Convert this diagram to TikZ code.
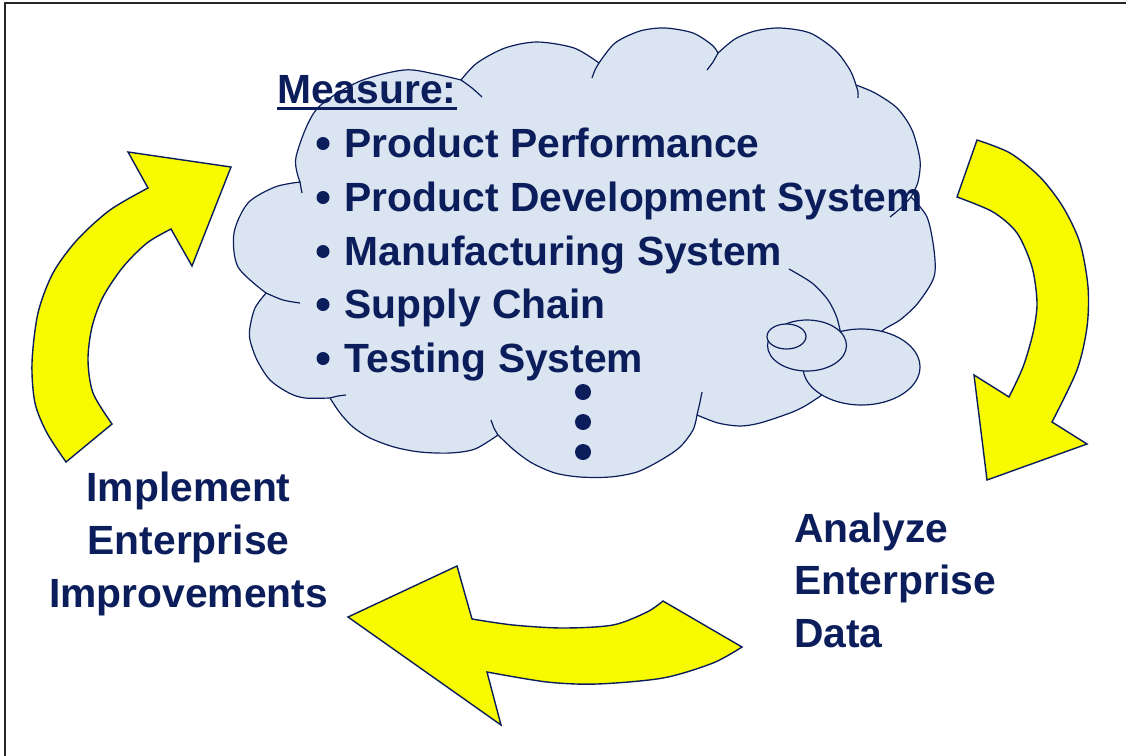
\documentclass[tikz,border=0pt]{standalone}
\usepackage{fontspec}
\setmainfont{Liberation Sans}
\definecolor{navy}{HTML}{0B1E5B}
\definecolor{cloudfill}{HTML}{DBE5F1}
\definecolor{arrowyellow}{HTML}{F8FA00}
\tikzset{
  cloudshape/.style={fill=cloudfill, draw=navy, line width=1.2pt, line join=round},
  cloudtail/.style={draw=navy, line width=1.2pt},
  yarrow/.style={fill=arrowyellow, draw=navy, line width=1.4pt, line join=miter},
  bigtext/.style={text=navy, inner sep=0pt, font=\fontsize{40.8}{48}\selectfont\bfseries},
  bulletdot/.style={circle, fill=navy, inner sep=0pt, minimum size=13pt},
  bigdot/.style={circle, fill=navy, inner sep=0pt, minimum size=16pt},
  frame/.style={draw=black!85, line width=1.6pt}
}
\begin{document}
\begin{tikzpicture}[x=1pt,y=-1pt]
\useasboundingbox (0,0) rectangle (1126,755);
\fill[white] (0,0) rectangle (1126,755);
\draw[frame] (5,760) -- (5,3) -- (1130,3);

% cloud body
\path[cloudshape]
  plot[smooth] coordinates {(266,293) (238,267) (234,233) (248,203) (275,187) (300,182)}
  -- plot[smooth] coordinates {(300,182) (296,157) (316,110) (358,82) (404,70) (435,74) (461,80)}
  -- plot[smooth] coordinates {(461,80) (477,63) (505,48) (537,42) (574,48) (599,63)}
  -- plot[smooth] coordinates {(599,63) (615,43) (640,31) (665,28) (693,33) (712,45) (718,53)}
  -- plot[smooth] coordinates {(718,53) (735,39) (755,31) (780,28) (810,33) (835,50) (850,70) (856,85)}
  -- plot[smooth] coordinates {(856,85) (875,93) (897,108) (912,130) (920,160) (918,182) (911,197)}
  -- plot[smooth] coordinates {(911,197) (927,217) (934,250) (934,277) (918,303) (900,320) (881,332) (860,360) (840,380) (822,395)}
  -- plot[smooth] coordinates {(822,395) (805,406) (790,413) (760,423) (740,426) (718,423) (697,415)}
  -- plot[smooth] coordinates {(697,415) (693,430) (680,447) (661,460) (637,472) (610,477) (580,477) (555,473) (532,463) (514,450) (498,435)}
  -- plot[smooth] coordinates {(498,435) (475,449) (450,453) (420,452) (394,447) (370,438) (353,427) (340,413) (330,398)}
  -- plot[smooth] coordinates {(330,398) (305,398) (289,393) (270,380) (257,360) (250,340) (250,327) (255,308) (266,293)}
  -- cycle;
% inner arcs of the cloud
\draw[cloudtail] plot[smooth] coordinates {(300,182) (301,188) (302,193)};
\draw[cloudtail] plot[smooth] coordinates {(461,80) (472,88) (482,97)};
\draw[cloudtail] plot[smooth] coordinates {(599,63) (595,70) (592,78)};
\draw[cloudtail] plot[smooth] coordinates {(718,53) (713,62) (707,70)};
\draw[cloudtail] plot[smooth] coordinates {(856,85) (858,92) (858,98)};
\draw[cloudtail] plot[smooth] coordinates {(911,197) (902,207) (890,217)};
\draw[cloudtail] plot[smooth] coordinates {(789,269) (812,283) (828,300) (837,318) (842,340)};
\draw[cloudtail] plot[smooth] coordinates {(697,415) (700,402) (702,392)};
\draw[cloudtail] plot[smooth] coordinates {(498,435) (494,428) (491,420)};
\draw[cloudtail] plot[smooth] coordinates {(330,398) (338,396) (346,395)};
\draw[cloudtail] plot[smooth] coordinates {(266,293) (283,300) (300,303)};
% thought bubbles
\path[cloudshape] (861.5,367) ellipse [x radius=58.5, y radius=38];
\path[cloudshape] (807,345.5) ellipse [x radius=39.5, y radius=25.5];
\path[cloudshape] (786.5,336.5) ellipse [x radius=19.5, y radius=12.5];

% arrows
\path[yarrow]
  plot[smooth] coordinates {(66,462) (47,433) (35,403) (32,363) (38,313) (53,273) (77,240) (110,210) (148,188)}
  -- (128,152) -- (231,167) -- (192,266) -- (171,229)
  -- plot[smooth] coordinates {(171,229) (147,243) (123,267) (103,297) (92,327) (88,360) (93,393) (112,424)}
  -- cycle;
\path[yarrow]
  plot[smooth] coordinates {(977,140) (1010,153) (1040,177) (1063,207) (1080,243) (1088,287) (1087,327) (1077,370) (1052,422)}
  -- (1087,444) -- (987,480) -- (974,375) -- (1009,397)
  -- plot[smooth] coordinates {(1009,397) (1023,367) (1033,333) (1037,303) (1032,267) (1017,233) (993,212) (957,197)}
  -- cycle;
\path[yarrow]
  plot[smooth] coordinates {(742,647) (713,663) (663,678) (597,684) (547,682) (487,672)}
  -- (501,725) -- (348,617) -- (457,566) -- (472,619)
  -- plot[smooth] coordinates {(472,619) (513,625) (563,628) (613,625) (647,612) (663,601)}
  -- cycle;

% cloud text
\node[bigtext, anchor=base west] (measure) at (277,103) {Measure:};
\draw[navy, line width=2.6pt] ([yshift=-5.5pt]measure.base west) -- ([yshift=-5.5pt]measure.base east);
\node[bulletdot] (b1) at (323,143.5) {};
\node[bulletdot] (b2) at (323,197.5) {};
\node[bulletdot] (b3) at (323,251.5) {};
\node[bulletdot] (b4) at (323,304.5) {};
\node[bulletdot] (b5) at (323,358.5) {};
\node[bigtext, anchor=base west] (i1) at (344.5,157) {Product Performance};
\node[bigtext, anchor=base west] (i2) at (344.5,211) {Product Development System};
\node[bigtext, anchor=base west] (i3) at (344.5,265) {Manufacturing System};
\node[bigtext, anchor=base west] (i4) at (344.5,318) {Supply Chain};
\node[bigtext, anchor=base west] (i5) at (344.5,372) {Testing System};
\node[bigdot] (d1) at (583,392) {};
\node[bigdot] (d2) at (583,422) {};
\node[bigdot] (d3) at (583,452) {};

% side labels
\node[bigtext, anchor=base] (l1) at (188.5,501) {Implement};
\node[bigtext, anchor=base] (l2) at (188.5,554) {Enterprise};
\node[bigtext, anchor=base] (l3) at (188.5,607) {Improvements};
\node[bigtext, anchor=base west] (r1) at (794,542) {Analyze};
\node[bigtext, anchor=base west] (r2) at (794,594) {Enterprise};
\node[bigtext, anchor=base west] (r3) at (794,647) {Data};
\end{tikzpicture}
\end{document}
